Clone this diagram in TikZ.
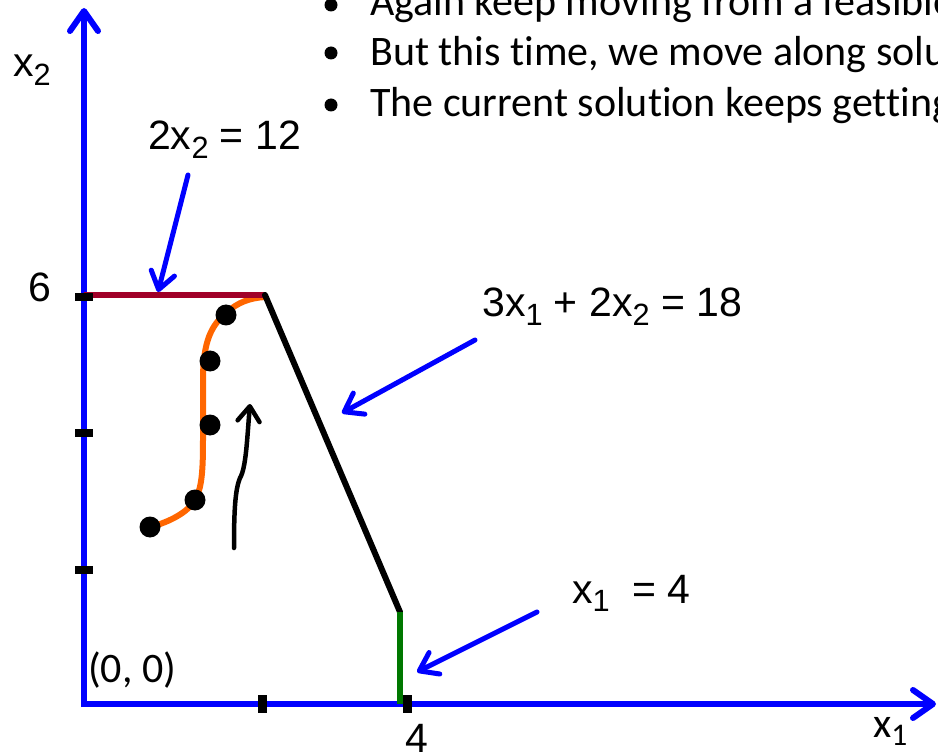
\documentclass[tikz,border=0pt]{standalone}
\usepackage{fontspec}
\usepackage{graphicx}
\setmainfont{Liberation Sans}
\newfontfamily\calfont[Ligatures=NoCommon]{Carlito}
\usetikzlibrary{arrows.meta}
\definecolor{axisblue}{RGB}{0,0,255}
\definecolor{limred}{RGB}{160,0,40}
\definecolor{limgreen}{RGB}{0,120,0}
\definecolor{pathorange}{RGB}{255,102,0}
\newcommand\lsub[1]{\raisebox{-0.2em}{\scalebox{0.75}{#1}}}
\begin{document}
\begin{tikzpicture}[x=1pt,y=-1pt,
  lbl/.style={anchor=base west, inner sep=0pt, font=\fontsize{41}{48}\selectfont},
  clbl/.style={anchor=base west, inner sep=0pt, font=\calfont\fontsize{42}{50}\selectfont},
  bullettext/.style={anchor=base west, inner sep=0pt, font=\calfont\fontsize{42}{50}\selectfont},
  axis/.style={draw=axisblue, line width=6pt, -{Straight Barb[length=20pt,width=28pt,round]}},
  pointer/.style={draw=axisblue, line width=5pt, line cap=round, -{Straight Barb[length=17pt,width=24pt,round]}},
  limit/.style={line width=6pt},
  tickmark/.style={fill=black},
  dot/.style={circle, fill=black, minimum size=21pt, inner sep=0pt},
  hand/.style={draw=black, line width=4.5pt, line cap=round, -{Straight Barb[length=15pt,width=22pt,round]}},
]
\useasboundingbox (0,0) rectangle (938,754);
\clip (0,0) rectangle (938,754);

% bullets
\fill (331,5) circle (6.5pt);
\fill (331,53) circle (6.5pt);
\fill (331,105) circle (6.5pt);
\node[bullettext] (b1) at (370,16) {Again keep moving from a feasible solution};
\node[bullettext] (b2) at (370,66) {But this time, we move along solution};
\node[bullettext] (b3) at (370,117) {The current solution keeps getting};

% axes
\coordinate (ybase) at (84,707);
\coordinate (xbase) at (81,704);
\coordinate (ytip) at (84,8);
\coordinate (xtip) at (936,704);
\draw[axis] (ybase) -- (ytip);
\draw[axis] (xbase) -- (xtip);

% orange path
\draw[draw=pathorange, line width=6pt, line cap=round]
  (150,527) .. controls (170,522) and (188,512) .. (195,500)
  .. controls (202,488) and (203,470) .. (203,440)
  -- (203,380) .. controls (203,340) and (212,325) .. (226,313)
  .. controls (238,302) and (250,298) .. (265,297);

% constraint lines
\coordinate (A) at (84,295);
\coordinate (B) at (265,295);
\coordinate (C) at (400,612);
\coordinate (D) at (400,704);
\draw[limit, draw=limred] (A) -- (B);
\draw[limit, draw=black, line cap=round] (B) -- (C);
\draw[limit, draw=limgreen] (C) -- (D);

% ticks
\fill[tickmark] (75,293) rectangle (93,301);
\fill[tickmark] (75,429) rectangle (93,437);
\fill[tickmark] (75,566) rectangle (93,574);
\fill[tickmark] (258,695) rectangle (267,713);
\fill[tickmark] (403,695) rectangle (412,713);

% dots
\node[dot] (p1) at (150,527) {};
\node[dot] (p2) at (195,500) {};
\node[dot] (p3) at (210,425) {};
\node[dot] (p4) at (210,361) {};
\node[dot] (p5) at (226,315) {};

% hand-drawn arrow
\coordinate (h0) at (234,548);
\coordinate (h1) at (240,478);
\coordinate (h2) at (250,404);
\draw[hand] (h0) .. controls (234,512) and (235,490) .. (h1)
  .. controls (246,468) and (247,440) .. (h2);

% labels
\node[lbl] (lx2) at (13,77) {x\lsub{2}};
\node[lbl] (l6) at (28,302) {6};
\node[lbl] (l4) at (405,752) {4};
\node[clbl] (lx1) at (873,737) {x\lsub{1}};
\node[clbl] (l00) at (88,682) {(0, 0)};
\node[lbl] (c1) at (148,150) {2x\lsub{2} = 12};
\node[lbl] (c2) at (482,317) {3x\lsub{1} + 2x\lsub{2} = 18};
\node[lbl] (c3) at (572,603) {x\lsub{1}\ \ = 4};

% pointers
\coordinate (s1) at (188,175);
\coordinate (t1) at (158,292);
\coordinate (s2) at (475,340);
\coordinate (t2) at (342,413);
\coordinate (s3) at (537,612);
\coordinate (t3) at (417,672);
\draw[pointer] (s1) -- (t1);
\draw[pointer] (s2) -- (t2);
\draw[pointer] (s3) -- (t3);
\end{tikzpicture}
\end{document}
